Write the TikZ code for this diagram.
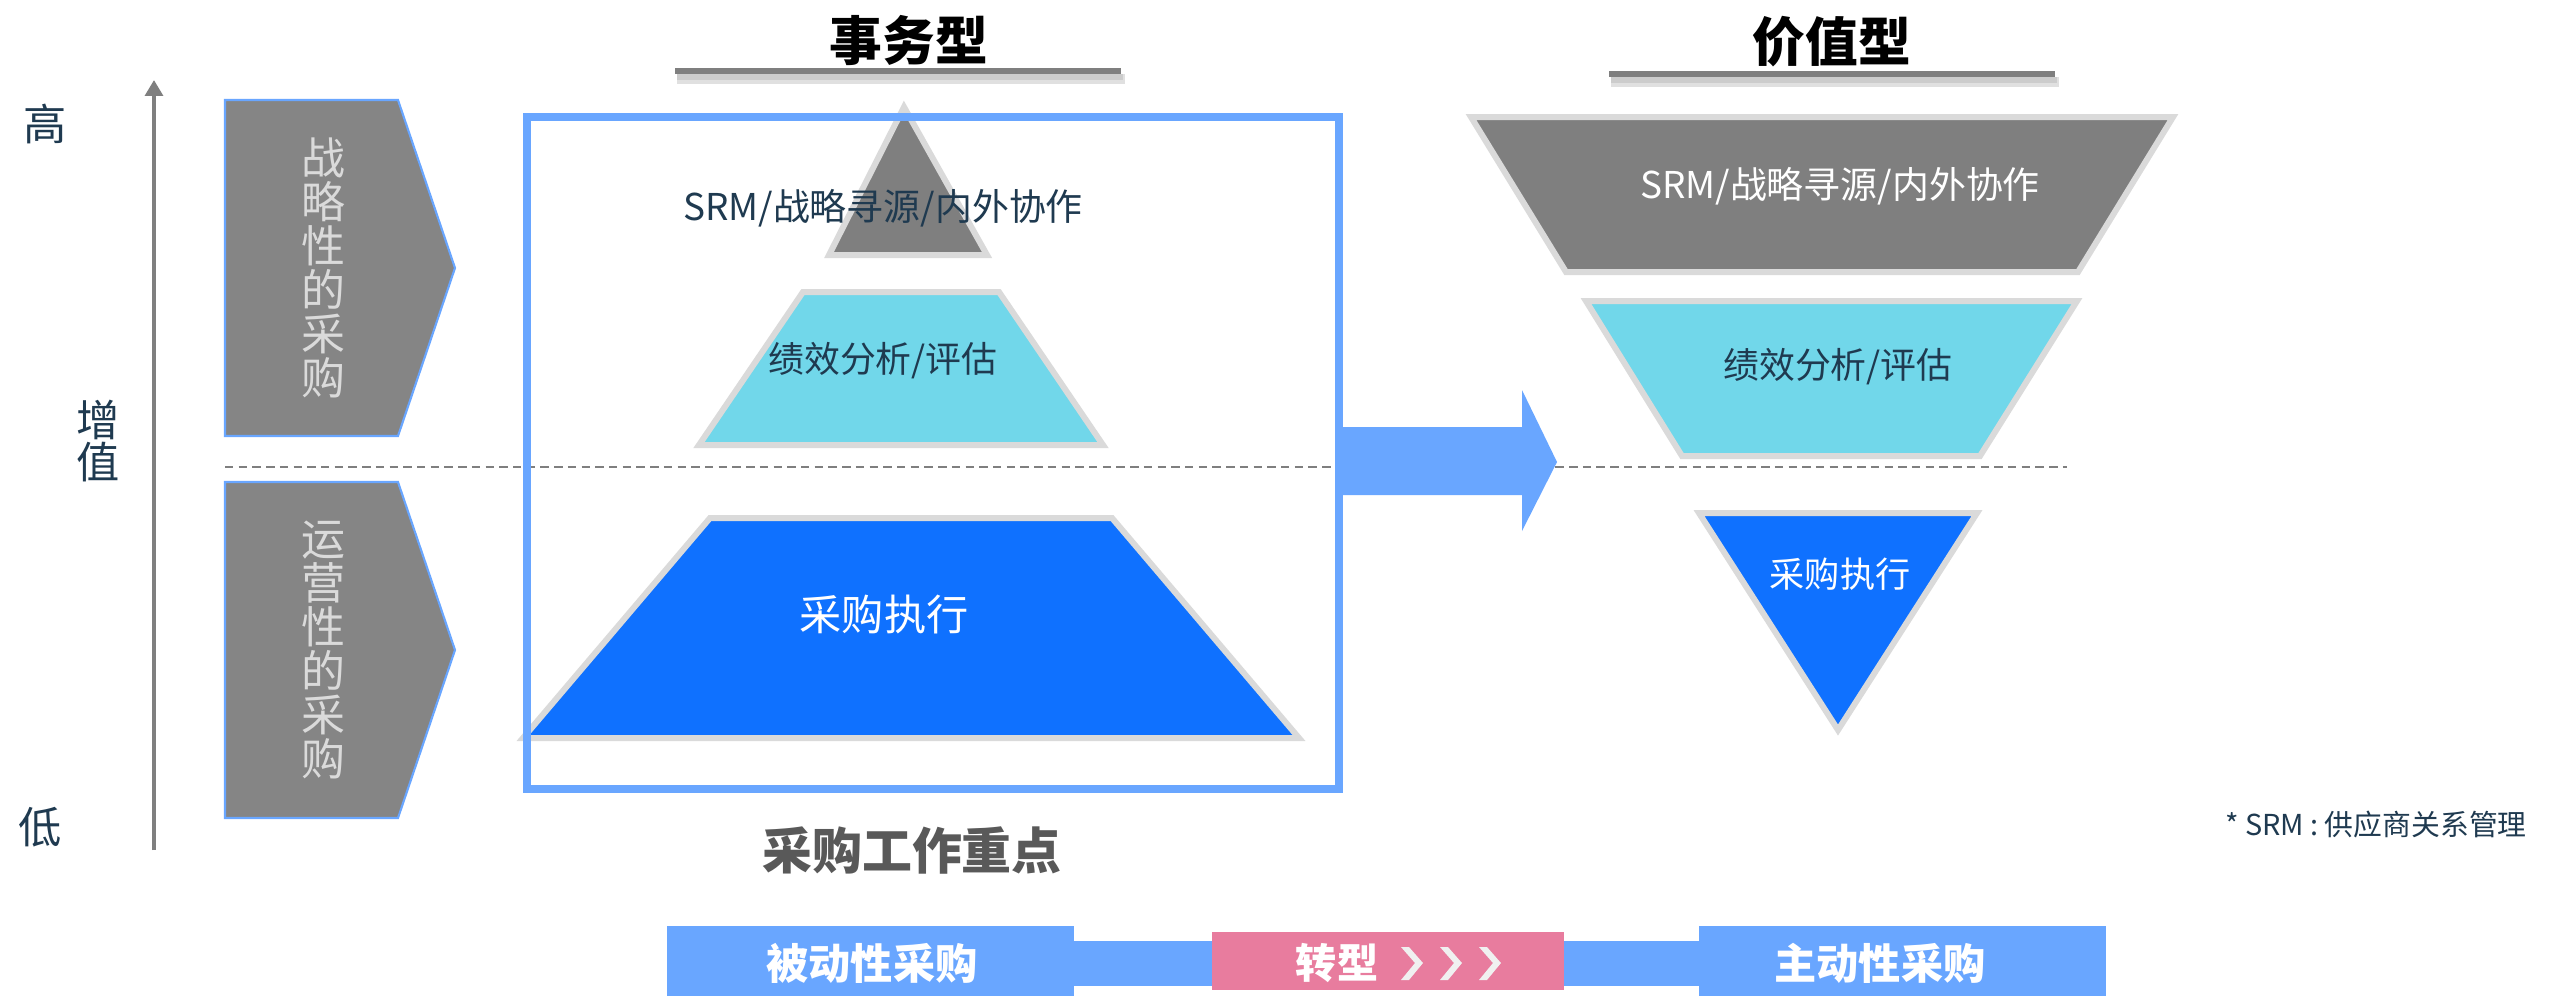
\documentclass[tikz,border=0pt]{standalone}
\usepackage{fontspec}
\setmainfont{Noto Sans CJK SC}
\usetikzlibrary{arrows.meta}
\definecolor{navy}{HTML}{1F3A50}
\definecolor{midgray}{HTML}{7F7F7F}
\definecolor{pgray}{HTML}{858585}
\definecolor{lgray}{HTML}{DADADA}
\definecolor{cyanf}{HTML}{71D7EA}
\definecolor{bluef}{HTML}{0F71FF}
\definecolor{lblue}{HTML}{69A6FF}
\definecolor{pinkf}{HTML}{E87C9E}
\definecolor{dgray}{HTML}{595959}
\definecolor{chev}{HTML}{F0F0F0}
\tikzset{
  lvl/.style={line width=1.7pt, draw=lgray, line join=miter},
  navytxt/.style={text=navy, inner sep=0pt},
  headtxt/.style={text=black, inner sep=0pt, font=\fontsize{15}{15}\selectfont\bfseries},
  vtxt/.style={text=lgray, inner sep=0pt, align=center, font=\fontsize{12.5}{12.5}\selectfont},
  barbox/.style={fill=lblue},
  bartxt/.style={text=white, inner sep=0pt, font=\fontsize{12}{12}\selectfont\bfseries},
}
\begin{document}
\begin{tikzpicture}[x=0.01cm,y=-0.01cm]
\useasboundingbox (0,0) rectangle (2556,996);
\fill[white] (0,0) rectangle (2556,996);

% value axis
\coordinate (axb) at (154,850);
\coordinate (axt) at (154,80);
\draw[midgray, line width=1.2pt, -{Triangle[width=5pt,length=4.5pt]}] (axb) -- (axt);
\node[navytxt, font=\fontsize{12.3}{12.3}\selectfont] (hi) at (45,124) {高};
\node[navytxt, font=\fontsize{12.3}{12.3}\selectfont] (lo) at (40,827) {低};
\node[navytxt, align=center, font=\fontsize{12.3}{11.8}\selectfont] (zz) at (98,441) {增\\值};

% left pentagons
\draw[fill=pgray, draw=lblue, line width=0.6pt] (225,100) -- (398,100) -- (455,268) -- (398,436) -- (225,436) -- cycle;
\draw[fill=pgray, draw=lblue, line width=0.6pt] (225,482) -- (398,482) -- (455,650) -- (398,818) -- (225,818) -- cycle;
\node[vtxt] (p1) at (323,268) {战\\略\\性\\的\\采\\购};
\node[vtxt] (p2) at (323,650) {运\\营\\性\\的\\采\\购};

% dashed divider
\draw[midgray, line width=0.6pt, dash pattern=on 2.4pt off 1.5pt] (225,467) -- (2067,467);

% headings with bars
\fill[black!12] (677,74) rectangle (1125,84);
\fill[black!20] (677,74) rectangle (1123,80);
\fill[midgray] (675,68) rectangle (1121,74);
\fill[black!12] (1611,77) rectangle (2059,87);
\fill[black!20] (1611,77) rectangle (2057,83);
\fill[midgray] (1609,71) rectangle (2055,77);
\node[headtxt] (h1) at (909,40) {事务型};
\node[headtxt] (h2) at (1832,42) {价值型};

% left pyramid
\draw[lvl, fill=midgray] (904,107) -- (987,255) -- (829,255) -- cycle;
\draw[lvl, fill=cyanf] (803,292) -- (999,292) -- (1103,445) -- (699,445) -- cycle;
\draw[lvl, fill=bluef] (710,518) -- (1112,518) -- (1299,738) -- (523,738) -- cycle;
\node[navytxt, font=\fontsize{10.5}{10.5}\selectfont] (l1) at (883,208) {SRM/战略寻源/内外协作};
\node[navytxt, font=\fontsize{10.2}{10.2}\selectfont] (l2) at (883,361) {绩效分析/评估};
\node[text=white, inner sep=0pt, font=\fontsize{12}{12}\selectfont] (l3) at (884,614) {采购执行};

% focus box
\draw[lblue, line width=2pt] (527,117) rectangle (1339,789);
\node[text=dgray, inner sep=0pt, font=\fontsize{14.2}{14.2}\selectfont\bfseries] (focus) at (912,850) {采购工作重点};

% big arrow
\fill[lblue] (1341,427) -- (1522,427) -- (1522,390) -- (1557,462) -- (1522,531) -- (1522,495) -- (1341,495) -- cycle;

% right funnel
\draw[lvl, fill=midgray] (1471,117) -- (2173,117) -- (2078,272) -- (1566,272) -- cycle;
\draw[lvl, fill=cyanf] (1586,301) -- (2077,301) -- (1980,456) -- (1682,456) -- cycle;
\draw[lvl, fill=bluef] (1699,513) -- (1977,513) -- (1838,730) -- cycle;
\node[text=white, inner sep=0pt, font=\fontsize{10.5}{10.5}\selectfont] (r1) at (1840,186) {SRM/战略寻源/内外协作};
\node[navytxt, font=\fontsize{10.2}{10.2}\selectfont] (r2) at (1838,367) {绩效分析/评估};
\node[text=white, inner sep=0pt, font=\fontsize{10}{10}\selectfont] (r3) at (1840,574) {采购执行};

% footnote
\node[navytxt, font=\fontsize{8.2}{8.2}\selectfont] (fn) at (2376,825) {* SRM : 供应商关系管理};

% bottom transformation bar
\fill[lblue] (1074,941) rectangle (1699,986);
\fill[barbox] (667,926) rectangle (1074,996);
\fill[pinkf] (1212,932) rectangle (1564,990);
\fill[barbox] (1699,926) rectangle (2106,996);
\node[bartxt] (b1) at (872,963) {被动性采购};
\node[bartxt] (b3) at (1880,963) {主动性采购};
\node[bartxt, font=\fontsize{11.7}{11.7}\selectfont\bfseries] (b2) at (1337,963) {转型};
\foreach \cx in {1401,1440,1479}{
  \fill[chev] (\cx,947) -- (\cx+8,947) -- (\cx+22,963) -- (\cx+8,980) -- (\cx,980) -- (\cx+14,963) -- cycle;
}
\end{tikzpicture}
\end{document}
